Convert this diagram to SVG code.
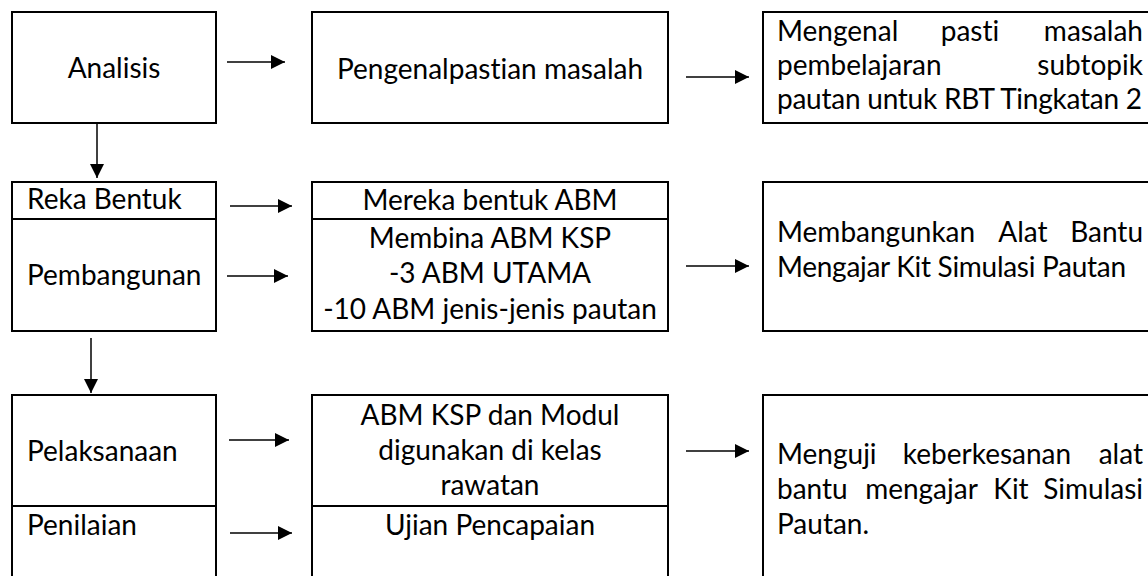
<svg xmlns="http://www.w3.org/2000/svg" width="1148" height="576" viewBox="0 0 1148 576">
<style>
.box{fill:#fff;stroke:#000;stroke-width:2}
.t{font-family:Lato,"Liberation Sans",sans-serif;font-size:28px;fill:#000;font-variant-ligatures:none}
.c{text-anchor:middle}
.e{text-anchor:end}
#connectors line{stroke:#000;stroke-width:1.5;marker-end:url(#ah)}
</style>
<defs>
<marker id="ah" markerUnits="userSpaceOnUse" viewBox="0 0 15 14" markerWidth="15" markerHeight="14" refX="14" refY="7" orient="auto"><path d="M0,0 L14,7 L0,14 Z" fill="#000"/></marker>
</defs>
<rect width="1148" height="576" fill="#fff"/>

<g id="analisis"><rect class="box" x="12" y="12" width="204" height="111"/><text class="t c" x="114" y="78">Analisis</text></g>
<g id="pengenalpastian"><rect class="box" x="312" y="12" width="356" height="111"/><text class="t c" x="490" y="79">Pengenalpastian masalah</text></g>
<g id="mengenal"><rect class="box" x="763" y="12" width="400" height="111"/>
<text class="t" x="777" y="41">Mengenal</text><text class="t c" x="970" y="41">pasti</text><text class="t e" x="1143" y="41">masalah</text>
<text class="t" x="777" y="75">pembelajaran</text><text class="t e" x="1143" y="75">subtopik</text>
<text class="t" x="777" y="109" textLength="365" lengthAdjust="spacing">pautan untuk RBT Tingkatan 2</text></g>

<g id="reka-bentuk"><rect class="box" x="12" y="182" width="204" height="37"/><text class="t" x="27" y="209">Reka Bentuk</text></g>
<g id="pembangunan"><rect class="box" x="12" y="219" width="204" height="112"/><text class="t" x="27" y="285">Pembangunan</text></g>
<g id="mereka-abm"><rect class="box" x="312" y="182" width="356" height="37"/><text class="t c" x="490" y="210">Mereka bentuk ABM</text></g>
<g id="membina-abm"><rect class="box" x="312" y="219" width="356" height="112"/>
<text class="t c" x="490" y="248">Membina ABM KSP</text><text class="t c" x="490" y="283">-3 ABM UTAMA</text><text class="t c" x="490" y="319">-10 ABM jenis-jenis pautan</text></g>
<g id="membangunkan"><rect class="box" x="763" y="182" width="400" height="149"/>
<text class="t" x="777" y="242">Membangunkan</text><text class="t c" x="1023" y="242">Alat</text><text class="t e" x="1143" y="242">Bantu</text>
<text class="t" x="777" y="277" textLength="349" lengthAdjust="spacing">Mengajar Kit Simulasi Pautan</text></g>

<g id="pelaksanaan"><rect class="box" x="12" y="395" width="204" height="111"/><text class="t" x="27" y="461">Pelaksanaan</text></g>
<g id="penilaian"><rect class="box" x="12" y="506" width="204" height="84"/><text class="t" x="27" y="535">Penilaian</text></g>
<g id="abm-ksp-modul"><rect class="box" x="312" y="395" width="356" height="111"/>
<text class="t c" x="490" y="425">ABM KSP dan Modul</text><text class="t c" x="490" y="460">digunakan di kelas</text><text class="t c" x="490" y="495">rawatan</text></g>
<g id="ujian"><rect class="box" x="312" y="506" width="356" height="84"/><text class="t c" x="490" y="535">Ujian Pencapaian</text></g>
<g id="menguji"><rect class="box" x="763" y="395" width="400" height="195"/>
<text class="t" x="777" y="464">Menguji</text><text class="t c" x="987" y="464">keberkesanan</text><text class="t e" x="1143" y="464">alat</text>
<text class="t" x="777" y="499">bantu</text><text class="t c" x="921.5" y="499">mengajar</text><text class="t c" x="1011" y="499">Kit</text><text class="t e" x="1143" y="499">Simulasi</text>
<text class="t" x="777" y="534">Pautan.</text></g>

<g id="connectors">
<line x1="227" y1="62" x2="285" y2="62"/>
<line x1="686" y1="77" x2="749" y2="77"/>
<line x1="97" y1="124" x2="97" y2="178"/>
<line x1="230" y1="206" x2="292" y2="206"/>
<line x1="227" y1="276" x2="288" y2="276"/>
<line x1="686" y1="266" x2="749" y2="266"/>
<line x1="91" y1="338" x2="91" y2="393"/>
<line x1="229" y1="440" x2="289" y2="440"/>
<line x1="230" y1="533" x2="292" y2="533"/>
<line x1="686" y1="451" x2="749" y2="451"/>
</g>
</svg>
